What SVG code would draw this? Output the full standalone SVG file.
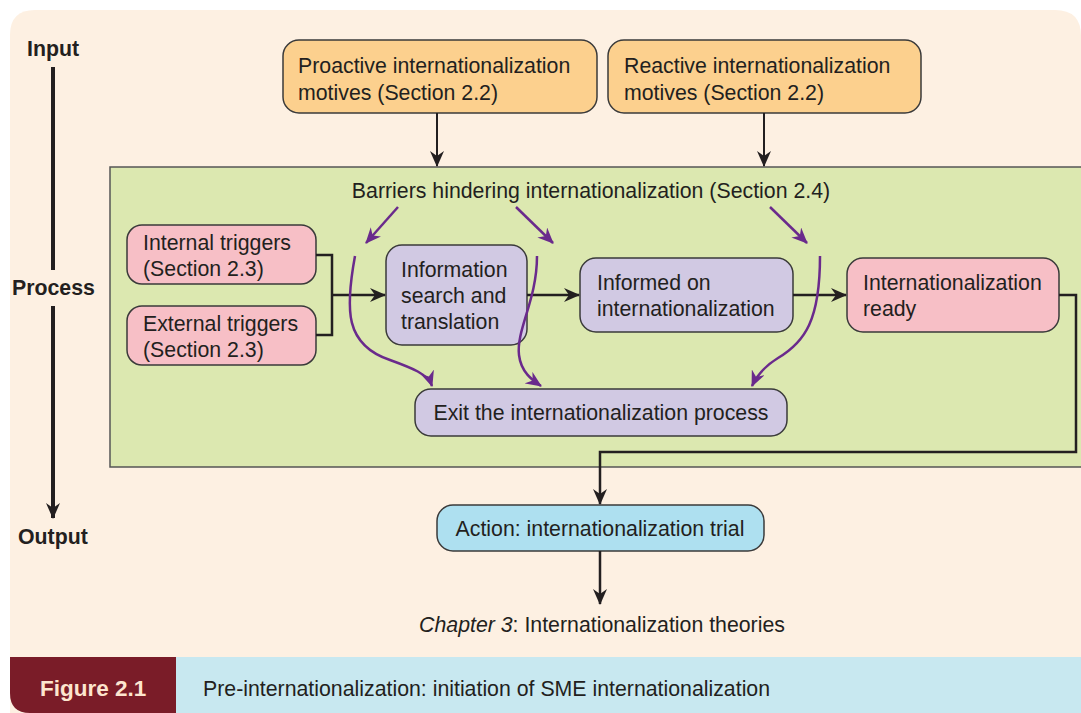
<svg xmlns="http://www.w3.org/2000/svg" width="1081" height="713" viewBox="0 0 1081 713">
<defs>
<style>
.t{font-family:"Liberation Sans",Arial,sans-serif;font-size:21.3px;fill:#231f20}
.b{font-weight:bold}
.box{stroke:#3a3a3a;stroke-width:1.5}
.orange{fill:#fcd08e}
.pink{fill:#f7bfc6}
.purple{fill:#d1c9e3}
.blue{fill:#aee0f0}
.ln{fill:none;stroke:#231f20;stroke-width:3}
.pl{fill:none;stroke:#6a2a8c;stroke-width:2.5}
</style>
<marker id="ahb" markerWidth="16" markerHeight="14" refX="15" refY="7" orient="auto" markerUnits="userSpaceOnUse" viewBox="0 0 16 14">
<path d="M0,0 L16,7 L0,14 L5,7 Z" fill="#231f20"/>
</marker>
<marker id="ap" markerWidth="16" markerHeight="14" refX="15" refY="7" orient="auto" markerUnits="userSpaceOnUse" viewBox="0 0 16 14">
<path d="M0,0 L16,7 L0,14 L5,7 Z" fill="#6a2a8c"/>
</marker>
</defs>
<rect width="1081" height="713" fill="#ffffff"/>
<path d="M35,10 H1055 Q1081,10 1081,36 V713 H10 V35 Q10,10 35,10 Z" fill="#fdf0e2"/>
<g id="caption">
<path d="M10,657 H176 V713 H30 Q10,713 10,693 Z" fill="#7a1c28"/>
<rect x="176" y="657" width="905" height="56" fill="#c8e8f0"/>
<text class="t b" x="40" y="696" style="fill:#fde5cf;font-size:22.5px">Figure 2.1</text>
<text class="t" x="203" y="696">Pre-internationalization: initiation of SME internationalization</text>
</g>
<g id="axis">
<text class="t b" x="27" y="56">Input</text>
<line x1="53" y1="67" x2="53" y2="270" class="ln" style="stroke-width:4"/>
<text class="t b" x="12" y="295">Process</text>
<line x1="53" y1="306" x2="53" y2="518" class="ln" style="stroke-width:4" marker-end="url(#ahb)"/>
<text class="t b" x="18" y="544">Output</text>
</g>
<g id="process-area">
<rect x="110" y="167" width="980" height="300" fill="#dce8b0" stroke="#555" stroke-width="1.5"/>
<text class="t" x="591" y="198" text-anchor="middle">Barriers hindering internationalization (Section 2.4)</text>
</g>
<g id="proactive">
<rect x="283" y="40" width="314" height="73" rx="16" class="box orange"/>
<text class="t" x="298" y="73">Proactive internationalization</text>
<text class="t" x="298" y="100">motives (Section 2.2)</text>
</g>
<g id="reactive">
<rect x="608" y="40" width="313" height="73" rx="16" class="box orange"/>
<text class="t" x="624" y="73">Reactive internationalization</text>
<text class="t" x="624" y="100">motives (Section 2.2)</text>
</g>
<g id="internal">
<rect x="127" y="225" width="189" height="59" rx="15" class="box pink"/>
<text class="t" x="143" y="250">Internal triggers</text>
<text class="t" x="143" y="276">(Section 2.3)</text>
</g>
<g id="external">
<rect x="127" y="306" width="189" height="59" rx="15" class="box pink"/>
<text class="t" x="143" y="331">External triggers</text>
<text class="t" x="143" y="357">(Section 2.3)</text>
</g>
<g id="info-search">
<rect x="386" y="245" width="141" height="100" rx="16" class="box purple"/>
<text class="t" x="401" y="277">Information</text>
<text class="t" x="401" y="303">search and</text>
<text class="t" x="401" y="329">translation</text>
</g>
<g id="informed">
<rect x="580" y="258" width="213" height="74" rx="16" class="box purple"/>
<text class="t" x="597" y="290">Informed on</text>
<text class="t" x="597" y="316">internationalization</text>
</g>
<g id="ready">
<rect x="847" y="258" width="212" height="74" rx="16" class="box pink"/>
<text class="t" x="863" y="290">Internationalization</text>
<text class="t" x="863" y="316">ready</text>
</g>
<g id="exit">
<rect x="415" y="389" width="372" height="47" rx="16" class="box purple"/>
<text class="t" x="601" y="420" text-anchor="middle">Exit the internationalization process</text>
</g>
<g id="action">
<rect x="437" y="505" width="327" height="46" rx="16" class="box blue"/>
<text class="t" x="600" y="536" text-anchor="middle">Action: internationalization trial</text>
</g>
<g id="chapter">
<text class="t" x="602" y="632" text-anchor="middle"><tspan font-style="italic">Chapter 3</tspan>: Internationalization theories</text>
</g>
<g id="connectors">
<line x1="437" y1="113" x2="437" y2="166" class="ln" style="stroke-width:2" marker-end="url(#ahb)"/>
<line x1="764" y1="113" x2="764" y2="166" class="ln" style="stroke-width:2" marker-end="url(#ahb)"/>
<polyline points="316,255 332,255 332,335 316,335" class="ln" style="stroke-width:2.5"/>
<line x1="332" y1="295" x2="385" y2="295" class="ln" style="stroke-width:2.5" marker-end="url(#ahb)"/>
<line x1="527" y1="295" x2="579" y2="295" class="ln" style="stroke-width:2.5" marker-end="url(#ahb)"/>
<line x1="793" y1="295" x2="846" y2="295" class="ln" style="stroke-width:2.5" marker-end="url(#ahb)"/>
<polyline points="1059,295 1076,295 1076,452 600,452 600,504" class="ln" style="stroke-width:2.5" marker-end="url(#ahb)"/>
<line x1="600" y1="551" x2="600" y2="604" class="ln" style="stroke-width:2.5" marker-end="url(#ahb)"/>
<line x1="398" y1="207" x2="366" y2="243" class="pl" marker-end="url(#ap)"/>
<line x1="516" y1="207" x2="553" y2="243" class="pl" marker-end="url(#ap)"/>
<line x1="770" y1="207" x2="807" y2="243" class="pl" marker-end="url(#ap)"/>
<path d="M355,256 C345,310 345,345 390,360 C412,368 428,374 432,386" class="pl" marker-end="url(#ap)"/>
<path d="M537,256 C537,300 516,330 519,355 C521,372 532,380 541,386" class="pl" marker-end="url(#ap)"/>
<path d="M820,256 C820,320 805,342 778,358 C765,366 757,375 752,386" class="pl" marker-end="url(#ap)"/>
</g>
</svg>
